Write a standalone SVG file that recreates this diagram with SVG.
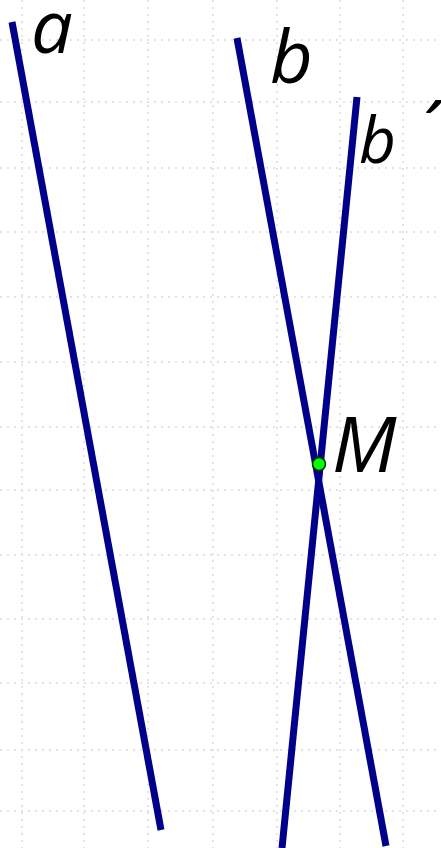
<svg xmlns="http://www.w3.org/2000/svg" width="441" height="848" viewBox="0 0 441 848">
<style>
.grid line{stroke:#e2e2ea;stroke-width:2;stroke-dasharray:2 5;}
.ln{stroke:#00008a;stroke-width:7;stroke-linecap:butt;fill:none;}
.lbl{font-family:"Open Sans","DejaVu Sans",sans-serif;font-style:italic;fill:#000;}
</style>
<rect width="441" height="848" fill="#fff"/>
<g class="grid" id="grid">
<line x1="0" y1="40" x2="441" y2="40"/>
<line x1="0" y1="102" x2="441" y2="102"/>
<line x1="0" y1="168" x2="441" y2="168"/>
<line x1="0" y1="232" x2="441" y2="232"/>
<line x1="0" y1="297" x2="441" y2="297"/>
<line x1="0" y1="362" x2="441" y2="362"/>
<line x1="0" y1="427" x2="441" y2="427"/>
<line x1="0" y1="490" x2="441" y2="490"/>
<line x1="0" y1="555" x2="441" y2="555"/>
<line x1="0" y1="619" x2="441" y2="619"/>
<line x1="0" y1="683" x2="441" y2="683"/>
<line x1="0" y1="750" x2="441" y2="750"/>
<line x1="0" y1="811" x2="441" y2="811"/>
<line x1="22" y1="0" x2="22" y2="848"/>
<line x1="84" y1="0" x2="84" y2="848"/>
<line x1="148" y1="0" x2="148" y2="848"/>
<line x1="213" y1="0" x2="213" y2="848"/>
<line x1="277" y1="0" x2="277" y2="848"/>
<line x1="340" y1="0" x2="340" y2="848"/>
<line x1="403" y1="0" x2="403" y2="848"/>
</g>
<g id="connectors">
<line id="line-a" class="ln" x1="12" y1="22" x2="161" y2="830"/>
<line id="line-b" class="ln" x1="237" y1="38" x2="386" y2="846"/>
<line id="line-b-prime" class="ln" x1="357" y1="97" x2="282" y2="848"/>
</g>
<g id="label-a"><text class="lbl" x="31" y="53" font-size="74">a</text></g>
<g id="label-b"><text class="lbl" x="270" y="83" font-size="74">b</text></g>
<g id="label-b-prime"><text class="lbl" x="359" y="163" font-size="64">b<tspan x="417" y="162" font-size="80">´</tspan></text></g>
<g id="point-M">
<circle cx="319" cy="464" r="6.5" fill="#00ff00" stroke="#003300" stroke-width="1.5"/>
<text class="lbl" x="332" y="472" font-size="77">M</text>
</g>
</svg>
